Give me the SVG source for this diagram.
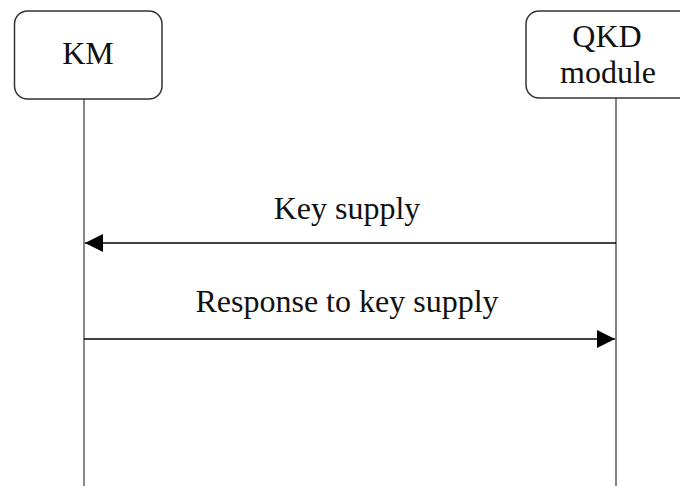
<svg xmlns="http://www.w3.org/2000/svg" width="680" height="486" viewBox="0 0 680 486">
<style>
.box{fill:#fff;stroke:#333;stroke-width:1.5}
.life{stroke:#444;stroke-width:1.3;fill:none}
.msg{stroke:#000;stroke-width:1.5;fill:none}
.t{font-family:"Liberation Serif","Times New Roman",serif;font-size:32px;fill:#111;text-anchor:middle}
</style>
<defs>
<marker id="ah" viewBox="0 0 18 18" refX="18" refY="9" markerWidth="18" markerHeight="18" markerUnits="userSpaceOnUse" orient="auto">
<path d="M0,0 L18,9 L0,18 Z" fill="#000"/>
</marker>
</defs>
<rect width="680" height="486" fill="#fff"/>
<g id="connectors">
<line class="life" x1="84" y1="99" x2="84" y2="486"/>
<line class="life" x1="616" y1="98" x2="616" y2="486"/>
<line class="msg" x1="616" y1="243" x2="85" y2="243" marker-end="url(#ah)"/>
<line class="msg" x1="84" y1="339" x2="615" y2="339" marker-end="url(#ah)"/>
<text class="t" x="347" y="219">Key supply</text>
<text class="t" x="347" y="312">Response to key supply</text>
</g>
<g id="km">
<rect class="box" x="14.5" y="11" width="147.5" height="88" rx="13"/>
<text class="t" x="88" y="64">KM</text>
</g>
<g id="qkd">
<rect class="box" x="526" y="11" width="170" height="87" rx="13"/>
<text class="t" x="607" y="47">QKD</text>
<text class="t" x="608" y="83">module</text>
</g>
</svg>
